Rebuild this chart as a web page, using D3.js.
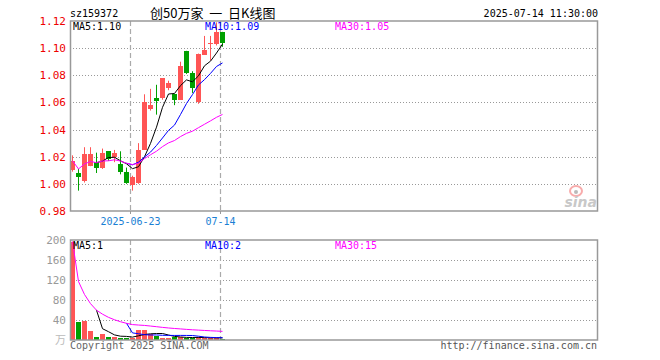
<!DOCTYPE html>
<html>
<head>
<meta charset="utf-8">
<script src="https://cdn.jsdelivr.net/npm/d3@7"></script>
<style>
  body { margin: 0; background: #fff; }
  svg { display: block; }
  text { font-family: "DejaVu Sans Mono", monospace; font-size: 10px; }
</style>
</head>
<body>
<div id="chart"></div>
<script>
var code = "sz159372";
var title = "创50万家  一  日K线图";
var stamp = "2025-07-14 11:30:00";

var dates = ["06-09","06-10","06-11","06-12","06-13","06-16","06-17","06-18","06-19","06-20",
             "06-23","06-24","06-25","06-26","06-27","06-30","07-01","07-02","07-03","07-04",
             "07-07","07-08","07-09","07-10","07-11","07-14"];
var open  = [1.010,1.008,1.002,1.013,1.016,1.012,1.024,1.020,1.015,1.009,0.999,1.001,1.025,
             1.055,1.063,1.063,1.071,1.066,1.062,1.098,1.082,1.060,1.095,1.103,1.103,1.112];
var close = [1.017,1.005,1.022,1.022,1.012,1.023,1.018,1.023,1.009,1.001,1.005,1.025,1.060,
             1.058,1.061,1.078,1.074,1.062,1.087,1.082,1.071,1.096,1.099,1.104,1.112,1.104];
var high  = [1.021,1.011,1.027,1.027,1.023,1.026,1.024,1.025,1.024,1.012,1.006,1.030,1.066,
             1.070,1.073,1.078,1.076,1.066,1.090,1.098,1.083,1.096,1.109,1.109,1.119,1.112];
var low   = [1.009,0.995,1.001,1.013,1.008,1.011,1.017,1.016,1.007,1.000,0.995,1.000,1.025,
             1.054,1.051,1.062,1.069,1.058,1.062,1.081,1.067,1.059,1.095,1.091,1.102,1.101];
var volume = [197,37,39,18,7,12,7,7,5,5,5,20,20,12,8,5,5,6,6,4,4,6,4,4,4,3];

var priceTicks = [1.12,1.10,1.08,1.06,1.04,1.02,1.00,0.98];
var volTicks = [200,160,120,80,40];
var dateTicks = [["06-23","2025-06-23"],["07-14","07-14"]];
var priceMaLabels = ["MA5:1.10","MA10:1.09","MA30:1.05"];
var volMaLabels = ["MA5:1","MA10:2","MA30:15"];

function init(){
    var w = 660, h = 360;
    var left = 70, right = 597;
    var pTop = 21, pBot = 211;
    var vTop = 240, vBot = 340;
    var red = "#ff5555", green = "#00a000";
    var maColors = ["#000000","#0000ff","#ff00ff"];

    var svg = d3.select("#chart").append("svg")
        .attr("width", w).attr("height", h);

    var xScale = d3.scaleBand()
        .domain(dates)
        .range([left, left + 6*dates.length - 1])
        .paddingInner(1/6)
        .paddingOuter(0);
    var bw = xScale.bandwidth();

    var yScale = d3.scaleLinear().domain([0.98,1.12]).range([pBot, pTop]);
    var vScale = d3.scaleLinear().domain([0,200]).range([vBot, vTop]);

    // moving averages (short ones start once the window is full, MA30 uses what exists)
    function ma(arr, n, partial){
        return arr.map(function(d,i){
            if(i < n-1 && !partial) return null;
            var s = arr.slice(Math.max(0,i-n+1), i+1);
            return d3.mean(s);
        });
    }

    // header
    svg.append("text").attr("x",70).attr("y",17).text(code);
    svg.append("text").attr("x",150).attr("y",18)
        .style("font-family","'Noto Sans CJK SC', sans-serif").style("font-size","13px")
        .style("white-space","pre")
        .text(title);
    svg.append("text").attr("x",598).attr("y",17).attr("text-anchor","end").text(stamp);

    // grids
    svg.selectAll(".pgrid").data(priceTicks.slice(1,-1)).enter().append("line")
        .attr("x1",left).attr("x2",right)
        .attr("y1",function(d){ return Math.round(yScale(d))+0.5; })
        .attr("y2",function(d){ return Math.round(yScale(d))+0.5; })
        .attr("stroke","#999").attr("stroke-dasharray","1,2");
    svg.selectAll(".vgrid").data(volTicks.slice(1)).enter().append("line")
        .attr("x1",left).attr("x2",right)
        .attr("y1",function(d){ return Math.round(vScale(d))+0.5; })
        .attr("y2",function(d){ return Math.round(vScale(d))+0.5; })
        .attr("stroke","#999").attr("stroke-dasharray","1,2");

    // date dashed lines
    dateTicks.forEach(function(t){
        var x = xScale(t[0]) + 0.5;
        [[pTop,pBot],[vTop,vBot]].forEach(function(r){
            svg.append("line").attr("x1",x).attr("x2",x).attr("y1",r[0]).attr("y2",r[1])
                .attr("stroke","#aaa").attr("stroke-width",1.2).attr("stroke-dasharray","5,3");
        });
        svg.append("line").attr("x1",x).attr("x2",x).attr("y1",pBot).attr("y2",pBot+3)
            .attr("stroke","#999");
        svg.append("text").attr("x",x).attr("y",225).attr("text-anchor","middle")
            .attr("fill","#1a7fd4").text(t[1]);
    });

    // sina watermark
    var logo = svg.append("g").attr("opacity",0.4);
    logo.append("ellipse").attr("cx",576).attr("cy",191).attr("rx",6).attr("ry",5)
        .attr("fill","none").attr("stroke","#e33").attr("stroke-width",2);
    logo.append("circle").attr("cx",576).attr("cy",192).attr("r",2).attr("fill","#555");
    logo.append("text").attr("x",597).attr("y",207).attr("text-anchor","end")
        .style("font-family","'DejaVu Sans', sans-serif").style("font-size","14px")
        .style("font-weight","bold").style("font-style","italic").attr("fill","#777").text("sina");

    // candles
    var candles = svg.selectAll(".candle").data(dates).enter().append("g");
    candles.append("line")
        .attr("x1",function(d){ return xScale(d)+bw/2; })
        .attr("x2",function(d){ return xScale(d)+bw/2; })
        .attr("y1",function(d,i){ return yScale(high[i]); })
        .attr("y2",function(d,i){ return yScale(low[i]); })
        .attr("stroke",function(d,i){ return close[i]>=open[i] ? red : green; });
    candles.append("rect")
        .attr("x",function(d){ return xScale(d); })
        .attr("width",bw)
        .attr("y",function(d,i){ return yScale(Math.max(open[i],close[i])); })
        .attr("height",function(d,i){
            return Math.max(1, Math.abs(yScale(open[i]) - yScale(close[i])));
        })
        .attr("fill",function(d,i){ return close[i]>=open[i] ? red : green; })
        .attr("shape-rendering","crispEdges");

    // volume bars
    svg.selectAll(".vbar").data(volume).enter().append("rect")
        .attr("x",function(d,i){ return xScale(dates[i]); })
        .attr("width",bw)
        .attr("y",function(d){ return vScale(d); })
        .attr("height",function(d){ return vBot - vScale(d); })
        .attr("fill",function(d,i){ return close[i]>=open[i] ? red : green; })
        .attr("shape-rendering","crispEdges");

    // MA lines
    var pMa = [ma(close,5,false), ma(close,10,false), ma(close,30,true)];
    var vMa = [ma(volume,5,false), ma(volume,10,false), ma(volume,30,true)];
    function drawLine(vals, scale, color){
        var line = d3.line()
            .defined(function(d){ return d !== null; })
            .x(function(d,i){ return xScale(dates[i]) + bw/2; })
            .y(function(d){ return scale(d); });
        svg.append("path").datum(vals).attr("d",line)
            .attr("fill","none").attr("stroke",color).attr("stroke-width",1);
    }
    pMa.forEach(function(v,k){ drawLine(v, yScale, maColors[k]); });
    vMa.forEach(function(v,k){ drawLine(v, vScale, maColors[k]); });

    // frames
    svg.append("rect").attr("x",left+0.5).attr("y",pTop).attr("width",right-left)
        .attr("height",pBot-pTop).attr("fill","none").attr("stroke","#999").attr("stroke-width",1.5);
    svg.append("rect").attr("x",left+0.5).attr("y",vTop).attr("width",right-left)
        .attr("height",vBot-vTop).attr("fill","none").attr("stroke","#999").attr("stroke-width",1.5);

    // MA labels
    var labelX = [73, 205, 335];
    priceMaLabels.forEach(function(t,k){
        svg.append("text").attr("x",labelX[k]).attr("y",30).attr("fill",maColors[k]).text(t);
    });
    volMaLabels.forEach(function(t,k){
        svg.append("text").attr("x",labelX[k]).attr("y",249).attr("fill",maColors[k]).text(t);
    });

    // axis labels
    svg.selectAll(".plab").data(priceTicks).enter().append("text")
        .attr("x",66).attr("y",function(d){ return yScale(d)+4; })
        .attr("text-anchor","end").attr("fill","#ee0000")
        .style("font-size","11px")
        .text(function(d){ return d.toFixed(2); });
    svg.selectAll(".vlab").data(volTicks).enter().append("text")
        .attr("x",66).attr("y",function(d){ return vScale(d)+4; })
        .attr("text-anchor","end").attr("fill","#999")
        .style("font-size","11px")
        .text(function(d){ return d; });
    svg.append("text").attr("x",66).attr("y",vBot+4).attr("text-anchor","end")
        .attr("fill","#bbb").style("font-family","'Noto Sans CJK SC', sans-serif")
        .style("font-size","11px").text("万");

    // footer
    svg.append("text").attr("x",70).attr("y",349).attr("fill","#666")
        .text("Copyright 2025 SINA.COM");
    svg.append("text").attr("x",597).attr("y",349).attr("text-anchor","end").attr("fill","#555")
        .text("http://finance.sina.com.cn");
}
window.onload = init;
</script>
</body>
</html>
